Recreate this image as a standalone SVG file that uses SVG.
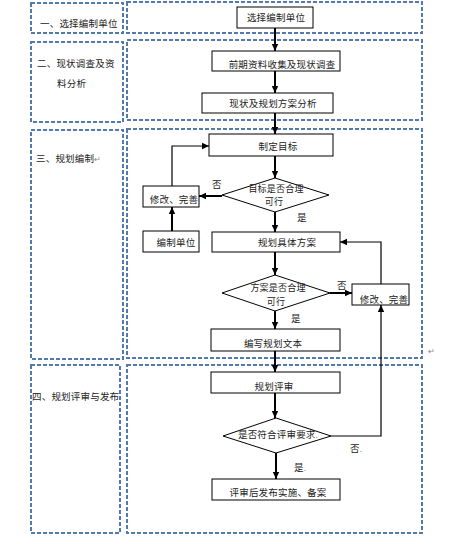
<svg xmlns="http://www.w3.org/2000/svg" width="452" height="544" viewBox="0 0 452 544">
<style>
.zone{fill:none;stroke:#5279b0;stroke-width:2;stroke-dasharray:4 2}
.box{fill:#fff;stroke:#000;stroke-width:1}
.dia{fill:#fff;stroke:#000;stroke-width:1}
text{font-family:"Noto Sans CJK SC","Noto Sans",sans-serif;font-size:9.5px;fill:#222;letter-spacing:0.2px}
.c{text-anchor:middle}
.s{font-size:9px}
.m{fill:#888;font-size:8px}
.thick{fill:none;stroke:#000;stroke-width:2}
.thin{fill:none;stroke:#000;stroke-width:1.2}
</style>
<defs>
<marker id="ah" markerUnits="userSpaceOnUse" markerWidth="8" markerHeight="8" refX="7" refY="4" orient="auto">
<path d="M0,0.8 L7,4 L0,7.2 Z" fill="#000"/>
</marker>
</defs>
<rect width="452" height="544" fill="#fff"/>
<g id="zones">
<rect class="zone" x="31" y="3" width="92" height="30"/>
<rect class="zone" x="127" y="2" width="295" height="31"/>
<rect class="zone" x="31" y="42" width="92" height="80"/>
<rect class="zone" x="127" y="40" width="295" height="80"/>
<rect class="zone" x="31" y="130" width="92" height="229"/>
<rect class="zone" x="127" y="129" width="295" height="229"/>
<rect class="zone" x="31" y="365" width="89" height="168"/>
<rect class="zone" x="127" y="365" width="295" height="168"/>
</g>
<g id="stage-labels">
<text x="40" y="26.5">一、选择编制单位</text>
<text x="37" y="66.5">二、现状调查及资</text>
<text x="57" y="86.5">料分析</text>
<text x="36" y="161.5">三、规划编制<tspan class="m">↵</tspan></text>
<text x="32" y="399.5">四、规划评审与发布</text>
<text class="m" x="428" y="354">↵</text>
</g>
<g id="connectors">
<line class="thick" x1="275" y1="28" x2="275" y2="51" marker-end="url(#ah)"/>
<line class="thick" x1="275" y1="71" x2="275" y2="93" marker-end="url(#ah)"/>
<line class="thick" x1="275" y1="113" x2="275" y2="134" marker-end="url(#ah)"/>
<line class="thick" x1="275" y1="156" x2="275" y2="178" marker-end="url(#ah)"/>
<line class="thick" x1="275" y1="212" x2="275" y2="232" marker-end="url(#ah)"/>
<line class="thick" x1="275" y1="252" x2="275" y2="275" marker-end="url(#ah)"/>
<line class="thick" x1="275" y1="311" x2="275" y2="329" marker-end="url(#ah)"/>
<line class="thick" x1="275" y1="351" x2="275" y2="372" marker-end="url(#ah)"/>
<line class="thick" x1="275" y1="393" x2="275" y2="418" marker-end="url(#ah)"/>
<line class="thick" x1="276" y1="453" x2="276" y2="479" marker-end="url(#ah)"/>
<line class="thick" x1="222" y1="196" x2="199" y2="196" marker-end="url(#ah)"/>
<polyline class="thin" points="172,186 172,146 209,146" marker-end="url(#ah)"/>
<line class="thick" x1="172" y1="231" x2="172" y2="207" marker-end="url(#ah)"/>
<line class="thick" x1="330" y1="293" x2="352" y2="293" marker-end="url(#ah)"/>
<polyline class="thin" points="381,284 381,242 340,242" marker-end="url(#ah)"/>
<polyline class="thin" points="331,436 381,436 381,305" marker-end="url(#ah)"/>
<text x="212" y="187.5">否</text>
<text x="297" y="220.5">是</text>
<text x="337" y="289">否</text>
<text x="291" y="321.5">是</text>
<text x="350" y="451.5">否<tspan class="m">.</tspan></text>
<text x="294" y="470.5">是<tspan class="m">.</tspan></text>
</g>
<g id="n1"><rect class="box" x="237" y="7" width="76" height="21"/><text class="c" x="276" y="21">选择编制单位</text></g>
<g id="n2"><rect class="box" x="212" y="51" width="128" height="20"/><text class="c" x="282" y="67.5">前期资料收集及现状调查</text></g>
<g id="n3"><rect class="box" x="202" y="93" width="131" height="20"/><text class="c" x="273" y="106.5">现状及规划方案分析</text></g>
<g id="n4"><rect class="box" x="209" y="134" width="124" height="22"/><text class="c" x="278" y="149.5">制定目标</text></g>
<g id="d1"><polygon class="dia" points="222,195 275,178 329,195 275,212"/><text class="c s" x="276" y="192">目标是否合理</text><text class="c s" x="274" y="205">可行</text></g>
<g id="n5"><rect class="box" x="143" y="186" width="56" height="21"/><text class="c" x="174" y="203">修改、完善</text></g>
<g id="n6"><rect class="box" x="143" y="231" width="56" height="21"/><text class="c" x="176" y="245.5">编制单位</text></g>
<g id="n7"><rect class="box" x="212" y="232" width="128" height="20"/><text class="c" x="287" y="245.5">规划具体方案</text></g>
<g id="d2"><polygon class="dia" points="222,293 275,275 330,293 275,311"/><text class="c s" x="278" y="291">方案是否合理</text><text class="c s" x="276" y="304.5">可行</text></g>
<g id="n8"><rect class="box" x="352" y="284" width="57" height="21"/><text class="c" x="384" y="302.5">修改、完善</text></g>
<g id="n9"><rect class="box" x="211" y="329" width="129" height="22"/><text class="c" x="273" y="346.5">编写规划文本</text></g>
<g id="n10"><rect class="box" x="211" y="372" width="129" height="21"/><text class="c" x="274" y="389.5">规划评审</text></g>
<g id="d3"><polygon class="dia" points="223,436 276,418 331,436 276,453"/><text class="c" x="278" y="437.5">是否符合评审要求<tspan class="m">.</tspan></text></g>
<g id="n11"><rect class="box" x="212" y="479" width="128" height="21"/><text class="c" x="278" y="495.5">评审后发布实施、备案</text></g>
</svg>
